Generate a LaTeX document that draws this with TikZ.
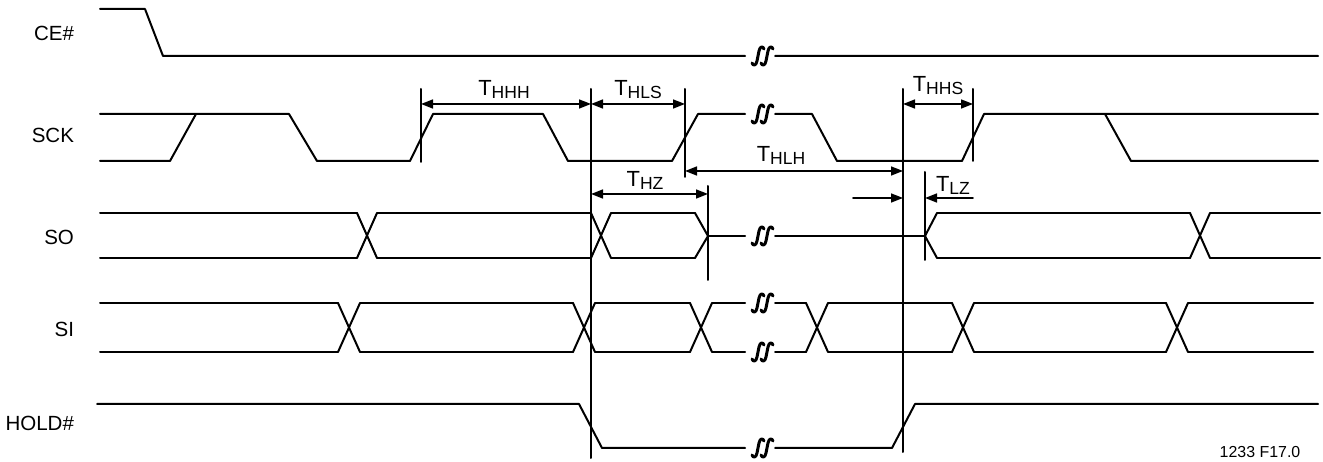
\documentclass[tikz,border=0pt]{standalone}
\usepackage{fontspec}
\setmainfont{Liberation Sans}
\usetikzlibrary{arrows.meta}
\newcommand{\tsub}[2]{#1\raisebox{-1.2bp}{\fontsize{8.8}{9}\selectfont #2}}

\begin{document}
\begin{tikzpicture}[x={(0.5bp,0)}, y={(0,-0.5bp)}, >={Triangle[length=6bp,width=4.5bp]},
	line join=round, line cap=round, font=\fontsize{11}{13}\selectfont,
	sig/.style={line width=1bp},
	vline/.style={line width=1bp},
	dim/.style={line width=0.8bp},
	brk/.pic={\foreach \d in {0,9}
		\draw[line width=1.5bp] ({\d-9},7) .. controls ({\d-8},10) and ({\d-5},10) .. ({\d-4},5) -- ({\d-2},-5) .. controls ({\d-1},-10) and ({\d+2},-10) .. ({\d+3},-7);}]
	\useasboundingbox (0,0) rectangle (1323,462);
	% signal names
	\foreach \y/\s/\n in {33/CE\#/ce,135/SCK/sck,237/SO/so,329/SI/si,423/HOLD\#/hold}
	\node[anchor=east,font=\fontsize{10.3}{12}\selectfont] (\n) at (81,\y) {\s};
	% CE#
	\draw[sig] (100,9) -- (145,9) -- (163,56) -- (745,56) (775,56) -- (1318,56);
	\pic at (761,56) {brk};
	% SCK
	\draw[sig] (100,114) -- (289,114) -- (317,161) -- (410,161) -- (433,114) -- (543,114) -- (568,161) -- (672,161) -- (698,114) -- (745,114)
		(775,114) -- (812,114) -- (837,161) -- (962,161) -- (984,114) -- (1318,114);
	\draw[sig] (100,161) -- (170,161) -- (196,114);
	\draw[sig] (1105,114) -- (1131,161) -- (1318,161);
	\pic at (761,114) {brk};
	% SO
	\foreach \x in {357,591,1190}
	\draw[sig] (\x,213) -- (\x+20,258) (\x,258) -- (\x+20,213);
	\foreach \a/\b in {100/357,377/591,611/695,937/1190,1210/1320}
	\draw[sig] (\a,213) -- (\b,213) (\a,258) -- (\b,258);
	\draw[sig] (695,213) -- (708,236) -- (695,258);
	\draw[sig] (708,236) -- (745,236) (775,236) -- (925,236);
	\draw[sig] (937,213) -- (925,236) -- (937,258);
	\pic at (761,236) {brk};
	% SI
	\foreach \x in {338,573,690,806,952,1166}
	\draw[sig] (\x,303) -- (\x+22,352) (\x,352) -- (\x+22,303);
	\foreach \a/\b in {100/338,360/573,595/690,712/745,775/806,828/952,974/1166,1188/1313}
	\draw[sig] (\a,303) -- (\b,303) (\a,352) -- (\b,352);
	\pic at (761,303) {brk};
	\pic at (761,352) {brk};
	% HOLD#
	\draw[sig] (97,404) -- (579,404) -- (602,448) -- (745,448) (775,448) -- (892,448) -- (915,404) -- (1318,404);
	\pic at (761,448) {brk};
	% markers
	\foreach \n/\x/\a/\b in {m1/421/89/162,m2/591/89/458,m3/685/89/177,m4/708/186/280,m5/903/89/452,m6/973/89/161,m7/925/172/260}
	{\coordinate (\n) at (\x,\a); \draw[vline] (\n) -- (\x,\b);}
	\coordinate (r1) at (0,104);
	\coordinate (r2) at (0,171);
	\coordinate (r3) at (0,194);
	\coordinate (r4) at (0,198);
	\coordinate (tlzA) at (853,198);
	\coordinate (tlzB) at (973,198);
	\draw[dim,<->] (m1|-r1) -- (m2|-r1);
	\draw[dim,<->] (m2|-r1) -- (m3|-r1);
	\draw[dim,<->] (m5|-r1) -- (m6|-r1);
	\draw[dim,<->] (m3|-r2) -- (m5|-r2);
	\draw[dim,<->] (m2|-r3) -- (m4|-r3);
	\draw[dim,->] (tlzA) -- (m5|-r4);
	\draw[dim,->] (tlzB) -- (m7|-r4);
	% timing names
	\node[anchor=base] (thhh) at (504,96) {\tsub{T}{HHH}};
	\node[anchor=base] (thls) at (638,96) {\tsub{T}{HLS}};
	\node[anchor=base] (thz) at (645,187) {\tsub{T}{HZ}};
	\node[anchor=base] (thlh) at (781,162) {\tsub{T}{HLH}};
	\node[anchor=base] (thhs) at (938,92) {\tsub{T}{HHS}};
	\node[anchor=base] (tlz) at (953,192) {\tsub{T}{LZ}};
	\node[anchor=base,font=\fontsize{8}{9}\selectfont] (fig) at (1260,458) {1233 F17.0};
\end{tikzpicture}
\end{document}
